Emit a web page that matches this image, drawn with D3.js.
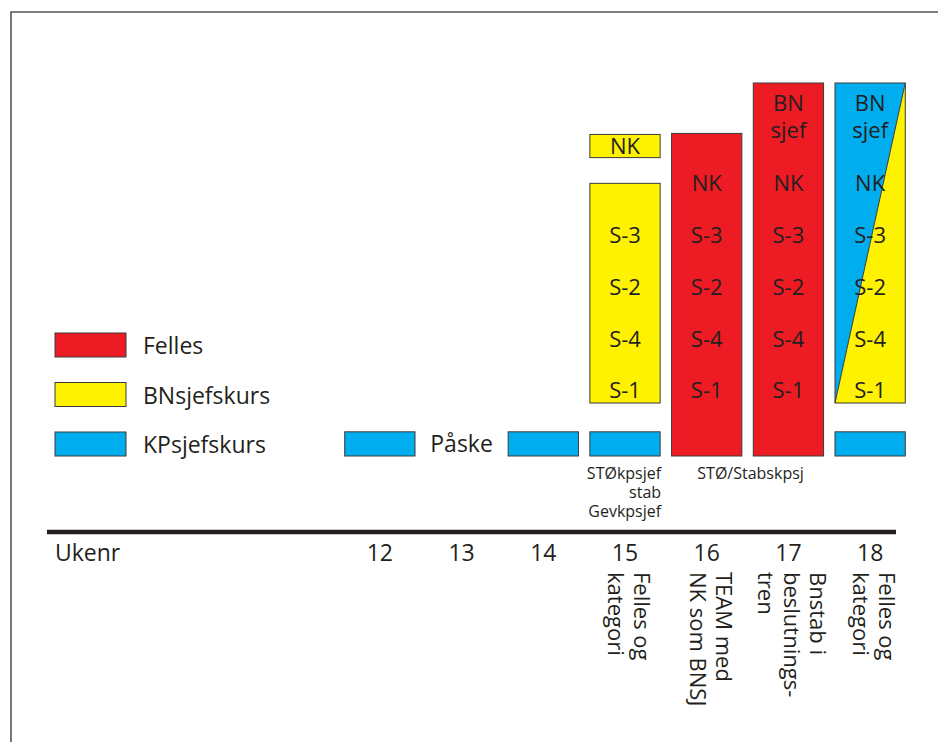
<!DOCTYPE html>
<html>
<head>
<meta charset="utf-8">
<script src="https://cdn.jsdelivr.net/npm/d3@7"></script>
<style>
  body { margin: 0; background: #fff; }
  svg { display: block; font-family: "Open Sans", "Noto Sans", sans-serif; }
  .lbl { font-size: 22px; fill: #231f20; }
</style>
</head>
<body>
<div id="graf"></div>
<script>
// uker på x-aksen
const uker = ["12", "13", "14", "15", "16", "17", "18"]
// uker med KPsjefskurs (blå stolpe nederst)
const kpUker = ["12", "14", "15", "18"]
// nivåer for tekst i stolpene (nedenfra)
const radTekst = ["S-1", "S-4", "S-2", "S-3", "NK", "sjef", "BN"]
const radNivaa = [1.28, 2.27, 3.28, 4.29, 5.3, 6.34, 6.86]

// stolper: uke, type, fra nivå, til nivå, antall tekstrader
const stolpeUke = ["15", "15", "16", "17", "18"]
const stolpeType = ["BNsjefskurs", "BNsjefskurs", "Felles", "Felles", "delt"]
const stolpeFra = [1.03, 5.8, 0, 0, 1.03]
const stolpeTil = [5.3, 6.25, 6.27, 7.25, 7.25]
const stolpeTekst = [["S-1", "S-4", "S-2", "S-3"], ["NK"],
  ["S-1", "S-4", "S-2", "S-3", "NK"],
  ["S-1", "S-4", "S-2", "S-3", "NK", "sjef", "BN"],
  ["S-1", "S-4", "S-2", "S-3", "NK", "sjef", "BN"]]
const kpFra = 0, kpTil = 0.47

// legende
const legendeNavn = ["Felles", "BNsjefskurs", "KPsjefskurs"]
const farger = { "Felles": "#ed1c24", "BNsjefskurs": "#fff200", "KPsjefskurs": "#00aeef" }

// merknader under aksen (rotert)
const merknadUke = ["15", "16", "17", "18"]
const merknadTekst = [["Felles og", "kategori"], ["TEAM med", "NK som BNSJ"],
  ["Bnstab i", "beslutnings-", "tren"], ["Felles og", "kategori"]]

const anchoTotal = 938, altoTotal = 742

const svg = d3.select("#graf").append("svg")
  .attr("width", anchoTotal)
  .attr("height", altoTotal)

// ramme
svg.append("path")
  .attr("d", "M11,742 L11,12 L938,12")
  .attr("fill", "none")
  .attr("stroke", "#555")
  .attr("stroke-width", 1.6)

// Escaladores
const x = d3.scaleBand()
  .domain(uker)
  .range([339, 911])
  .paddingInner(0.14)
  .paddingOuter(0.07)

const y = d3.scaleLinear()
  .domain([0, 7.25])
  .range([456, 83])

const kant = "#3a3a3a"

// blå KP-stolper
svg.selectAll("rect.kp")
  .data(kpUker)
  .enter()
  .append("rect")
  .attr("class", "kp")
  .attr("x", d => x(d))
  .attr("y", y(kpTil))
  .attr("width", x.bandwidth())
  .attr("height", y(kpFra) - y(kpTil))
  .attr("fill", farger.KPsjefskurs)
  .attr("stroke", kant)
  .attr("stroke-width", 1)

// Påske
svg.append("text")
  .attr("class", "lbl")
  .attr("x", x("13") + x.bandwidth() / 2)
  .attr("y", y((kpFra + kpTil) / 2) + 8)
  .attr("text-anchor", "middle")
  .style("font-size", "23px")
  .text("Påske")

// stolper
stolpeUke.forEach((u, i) => {
  const x0 = x(u), x1 = x(u) + x.bandwidth()
  const y0 = y(stolpeFra[i]), y1 = y(stolpeTil[i])
  if (stolpeType[i] === "delt") {
    svg.append("path")
      .attr("d", `M${x0},${y0} L${x0},${y1} L${x1},${y1} Z`)
      .attr("fill", farger.KPsjefskurs)
    svg.append("path")
      .attr("d", `M${x0},${y0} L${x1},${y1} L${x1},${y0} Z`)
      .attr("fill", farger.BNsjefskurs)
    svg.append("line")
      .attr("x1", x0).attr("y1", y0).attr("x2", x1).attr("y2", y1)
      .attr("stroke", kant).attr("stroke-width", 1)
    svg.append("rect")
      .attr("x", x0).attr("y", y1)
      .attr("width", x.bandwidth()).attr("height", y0 - y1)
      .attr("fill", "none").attr("stroke", kant).attr("stroke-width", 1)
  } else {
    svg.append("rect")
      .attr("x", x0).attr("y", y1)
      .attr("width", x.bandwidth()).attr("height", y0 - y1)
      .attr("fill", farger[stolpeType[i]])
      .attr("stroke", kant).attr("stroke-width", 1)
  }
  stolpeTekst[i].forEach(t => {
    let nivaa = radNivaa[radTekst.indexOf(t)]
    // NK-boksen i uke 15
    if (stolpeTekst[i].length === 1) nivaa = (stolpeFra[i] + stolpeTil[i]) / 2
    svg.append("text")
      .attr("class", "lbl")
      .attr("x", (x0 + x1) / 2)
      .attr("y", y(nivaa) + 8)
      .attr("text-anchor", "middle")
      .text(t)
  })
})

// tekst under stolpene
const under = svg.append("text")
  .attr("text-anchor", "end")
  .style("font-size", "16px")
  .attr("fill", "#231f20")
under.selectAll("tspan")
  .data(["STØkpsjef", "stab", "Gevkpsjef"])
  .enter()
  .append("tspan")
  .attr("x", x("15") + x.bandwidth() + 1)
  .attr("y", (d, i) => 479 + i * 19)
  .text(d => d)

svg.append("text")
  .attr("x", (x("16") + x("17") + x.bandwidth()) / 2 + 3)
  .attr("y", 479)
  .attr("text-anchor", "middle")
  .style("font-size", "16px")
  .attr("fill", "#231f20")
  .text("STØ/Stabskpsj")

// legende
const leg = svg.append("g")
legendeNavn.forEach((n, i) => {
  const ly = 333 + i * 49.5
  leg.append("rect")
    .attr("x", 55).attr("y", ly)
    .attr("width", 71).attr("height", 24)
    .attr("fill", farger[n]).attr("stroke", kant).attr("stroke-width", 1)
  leg.append("text")
    .attr("class", "lbl")
    .attr("x", 143).attr("y", ly + 21)
    .style("font-size", "23px")
    .text(n)
})

// akse
svg.append("line")
  .attr("x1", 47).attr("x2", 896)
  .attr("y1", 532).attr("y2", 532)
  .attr("stroke", "#231f20")
  .attr("stroke-width", 4.5)

const xAxis = d3.axisBottom(x).tickSize(0).tickPadding(0)
const aks = svg.append("g")
  .attr("transform", "translate(0, 545)")
  .call(xAxis)
aks.select(".domain").remove()
aks.selectAll("text")
  .attr("dy", "0.71em")
  .style("font-size", "23px")
  .style("font-family", "\"Open Sans\", \"Noto Sans\", sans-serif")
  .attr("fill", "#231f20")

svg.append("text")
  .attr("class", "lbl")
  .attr("x", 55).attr("y", 561)
  .style("font-size", "23px")
  .text("Ukenr")

// roterte merknader
const lh = 26
merknadUke.forEach((u, i) => {
  const n = merknadTekst[i].length
  const cx = x(u) + x.bandwidth() / 2 + (n - 1) * lh / 2 - 8 + 4
  const t = svg.append("text")
    .attr("transform", `translate(${cx}, 572) rotate(90)`)
    .style("font-size", "22px")
    .attr("fill", "#231f20")
  t.selectAll("tspan")
    .data(merknadTekst[i])
    .enter()
    .append("tspan")
    .attr("x", 0)
    .attr("y", (d, j) => j * lh)
    .text(d => d)
})
</script>
</body>
</html>
